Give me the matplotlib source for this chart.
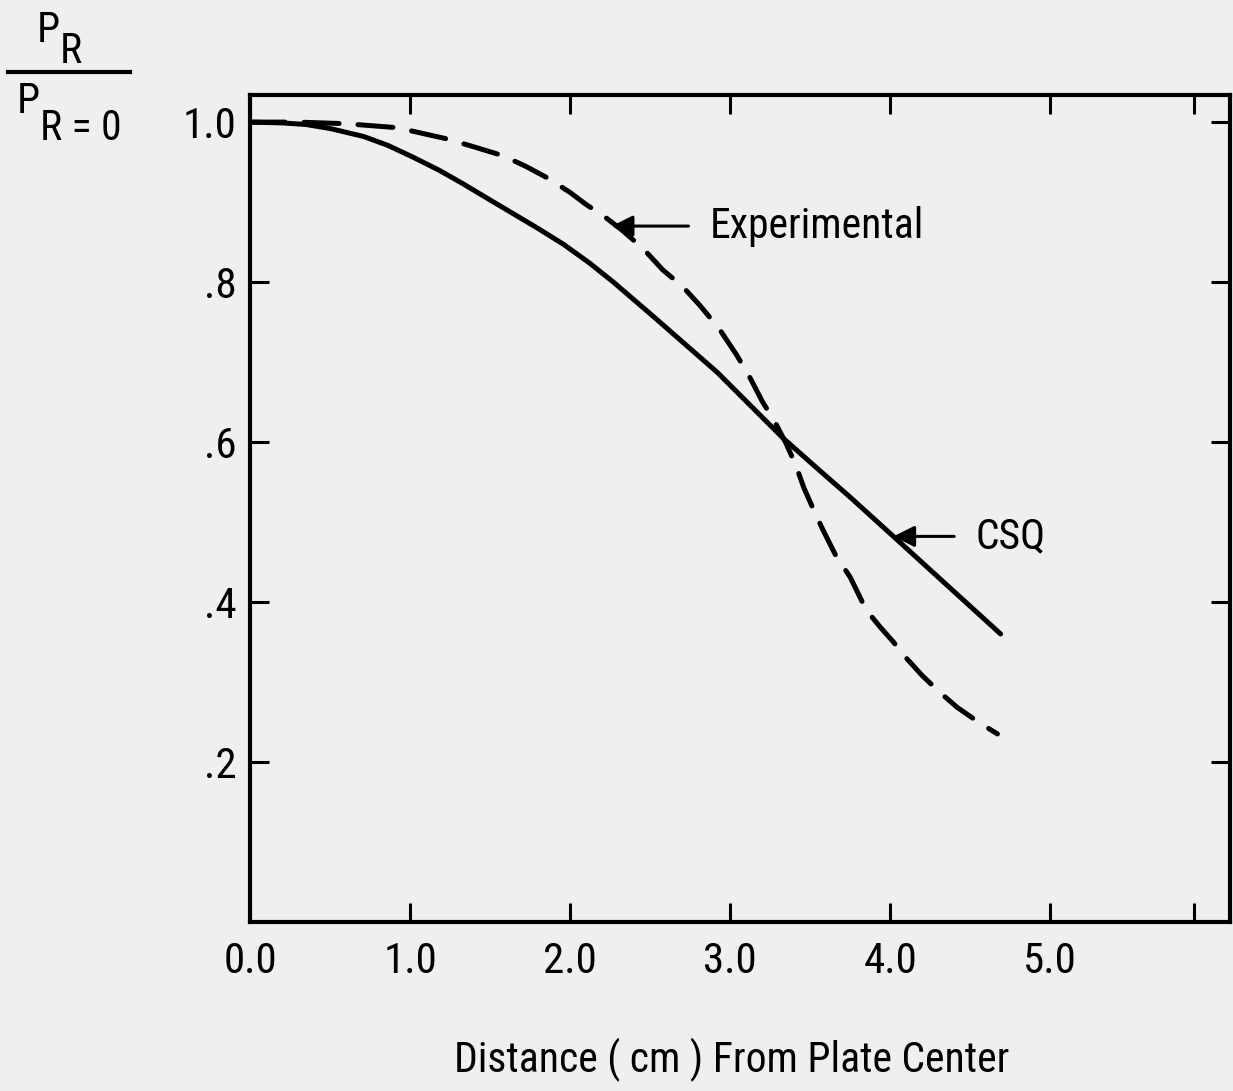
import matplotlib
matplotlib.use("Agg")
import matplotlib.pyplot as plt
from matplotlib import font_manager

# values
x_csq = [0.0, 0.2, 0.35, 0.5, 0.71, 0.86, 1.02, 1.18, 1.33, 1.48, 1.64, 1.8, 1.96, 2.12,
         2.27, 2.52, 2.72, 2.92, 3.12, 3.33, 3.55, 3.75, 4.02, 4.69]
y_csq = [1.0, 0.999, 0.997, 0.992, 0.982, 0.971, 0.956, 0.94, 0.923, 0.905, 0.886, 0.867,
         0.847, 0.824, 0.80, 0.757, 0.722, 0.687, 0.647, 0.605, 0.566, 0.531, 0.482, 0.36]

x_exp = [0.0, 0.3, 0.6, 0.92, 1.23, 1.4, 1.58, 1.72, 1.86, 2.0, 2.1, 2.22, 2.33, 2.46,
         2.58, 2.7, 2.81, 2.93, 3.04, 3.12, 3.2, 3.28, 3.35, 3.41, 3.46, 3.52, 3.58, 3.66,
         3.75, 3.85, 3.94, 4.02, 4.1, 4.2, 4.31, 4.42, 4.55, 4.67]
y_exp = [1.0, 1.0, 0.998, 0.993, 0.979, 0.969, 0.958, 0.945, 0.93, 0.912, 0.897, 0.881,
         0.864, 0.841, 0.815, 0.795, 0.771, 0.742, 0.709, 0.682, 0.651, 0.625, 0.598,
         0.571, 0.543, 0.516, 0.49, 0.458, 0.431, 0.39, 0.368, 0.35, 0.33, 0.308, 0.287,
         0.268, 0.25, 0.235]

x_ticks = [0, 1, 2, 3, 4, 5, 5.9]
x_labels = ["0.0", "1.0", "2.0", "3.0", "4.0", "5.0", ""]
y_ticks = [0.2, 0.4, 0.6, 0.8, 1.0]
y_labels = [".2", ".4", ".6", ".8", "1.0"]

names = {f.name for f in font_manager.fontManager.ttflist}
font = "DejaVu Sans"
for f in ["Liberation Sans Narrow", "DejaVu Sans Condensed", "Roboto Condensed"]:
    if f in names:
        font = f
        break
plt.rcParams['font.family'] = [font, 'DejaVu Sans']

bg = '#efefed'
fig = plt.figure(figsize=(12.33, 10.91), dpi=100, facecolor=bg)
ax = fig.add_axes([0.2028, 0.155, 0.795, 0.758])
ax.set_facecolor(bg)

ax.plot(x_csq, y_csq, color='k', lw=3.6, solid_capstyle='round', solid_joinstyle='round')
ax.plot(x_exp, y_exp, color='k', lw=3.6, linestyle=(0, (7, 3.8)), dash_capstyle='round')

ax.set_xlim(0, 6.125)
ax.set_ylim(0, 1.034)
ax.set_xticks(x_ticks)
ax.set_xticklabels(x_labels)
ax.set_yticks(y_ticks)
ax.set_yticklabels(y_labels)
ax.tick_params(direction='in', length=14, width=2.2, top=True, right=True,
               labelsize=31, colors='k')
ax.tick_params(axis='x', pad=14)
ax.tick_params(axis='y', pad=10)
for s in ax.spines.values():
    s.set_linewidth(3)

arrow = dict(arrowstyle='-|>', lw=2.2, color='k', mutation_scale=32, shrinkA=13, shrinkB=0)
ax.annotate("Experimental", xy=(2.26, 0.87), xytext=(2.87, 0.87), fontsize=30,
            va='center', ha='left', arrowprops=arrow)
ax.annotate("CSQ", xy=(4.02, 0.482), xytext=(4.53, 0.482), fontsize=30,
            va='center', ha='left', arrowprops=arrow)

# y label as a fraction
fig.text(37 / 1233, 1 - 42 / 1091, "P", fontsize=30, ha='left', va='baseline')
fig.text(60 / 1233, 1 - 63 / 1091, "R", fontsize=30, ha='left', va='baseline')
fig.add_artist(plt.Line2D([8 / 1233, 130 / 1233], [1 - 72 / 1091, 1 - 72 / 1091],
                          color='k', lw=3, transform=fig.transFigure))
fig.text(17 / 1233, 1 - 113 / 1091, "P", fontsize=30, ha='left', va='baseline')
fig.text(40 / 1233, 1 - 140 / 1091, "R = 0", fontsize=30, ha='left', va='baseline')

fig.text(732 / 1233, 1 - 1060 / 1091, "Distance ( cm ) From Plate Center", fontsize=30,
         ha='center', va='center')

fig.savefig("out.png", dpi=100, facecolor=bg)
